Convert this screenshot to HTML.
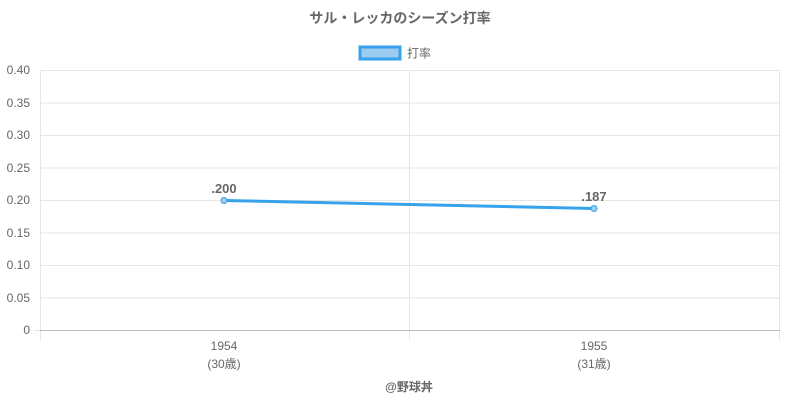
<!DOCTYPE html>
<html><head><meta charset="utf-8"><style>
body{margin:0;background:#fff;}
text{font-family:"Liberation Sans","Noto Sans CJK JP",sans-serif;}
</style></head><body>
<svg width="800" height="400" xmlns="http://www.w3.org/2000/svg">
<rect width="800" height="400" fill="#fff"/>
<text x="400" y="23" text-anchor="middle" font-size="14" font-weight="bold" fill="#666">サル・レッカのシーズン打率</text>
<rect x="360" y="47" width="40" height="12" fill="#9ccbf0" stroke="#36a2eb" stroke-width="3"/>
<text x="407" y="57.5" font-size="12" fill="#666">打率</text>
<g stroke="#e6e6e6" stroke-width="1">
<line x1="40" y1="70.5" x2="780" y2="70.5"/>
<line x1="40" y1="103" x2="780" y2="103"/>
<line x1="40" y1="135.5" x2="780" y2="135.5"/>
<line x1="40" y1="168" x2="780" y2="168"/>
<line x1="40" y1="200.5" x2="780" y2="200.5"/>
<line x1="40" y1="233" x2="780" y2="233"/>
<line x1="40" y1="265.5" x2="780" y2="265.5"/>
<line x1="40" y1="298" x2="780" y2="298"/>
<line x1="40.5" y1="70" x2="40.5" y2="340"/>
<line x1="409.5" y1="70" x2="409.5" y2="340"/>
<line x1="779.5" y1="70" x2="779.5" y2="340"/>
<line x1="34" y1="330.5" x2="40" y2="330.5"/>
</g>
<line x1="40" y1="330.5" x2="780" y2="330.5" stroke="#bbb" stroke-width="1"/>
<g font-size="12" fill="#666" text-anchor="end">
<text x="30" y="74">0.40</text><text x="30" y="107">0.35</text><text x="30" y="139">0.30</text>
<text x="30" y="172">0.25</text><text x="30" y="204">0.20</text><text x="30" y="237">0.15</text>
<text x="30" y="269">0.10</text><text x="30" y="302">0.05</text><text x="30" y="334">0</text>
</g>
<g font-size="12" fill="#666" text-anchor="middle">
<text x="224" y="350">1954</text><text x="224" y="368">(30歳)</text>
<text x="594" y="350">1955</text><text x="594" y="368">(31歳)</text>
</g>
<line x1="224" y1="200.5" x2="594" y2="208.5" stroke="#36a2eb" stroke-width="3"/>
<circle cx="224" cy="200.5" r="3" fill="#9ccbf0" stroke="#36a2eb" stroke-width="1"/>
<circle cx="594" cy="208.5" r="3" fill="#9ccbf0" stroke="#36a2eb" stroke-width="1"/>
<g font-size="13" font-weight="bold" fill="#666" text-anchor="middle">
<text x="224" y="193">.200</text><text x="594" y="201">.187</text>
</g>
<text x="409" y="391" text-anchor="middle" font-size="12" font-weight="bold" fill="#666">@野球丼</text>
</svg>
</body></html>
